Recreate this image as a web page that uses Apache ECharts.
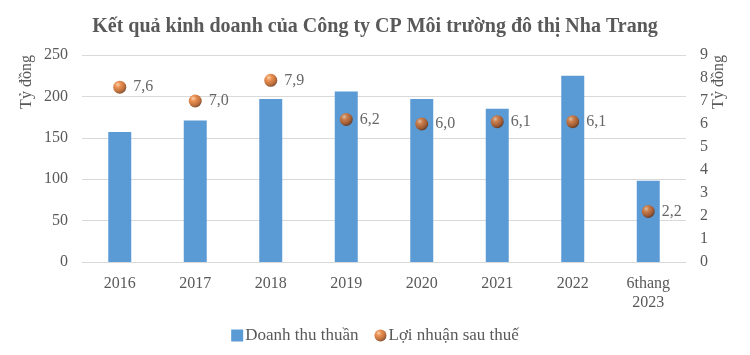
<!DOCTYPE html>
<html><head><meta charset="utf-8">
<script src="https://cdn.jsdelivr.net/npm/echarts@6/dist/echarts.min.js"></script>
<style>html,body{margin:0;padding:0;background:#fff}#c{width:750px;height:355px}</style>
</head><body><div id="c"></div>
<script>
const categories = ['2016','2017','2018','2019','2020','2021','2022','6thang\n2023'];
const revenue = [157, 171, 197, 206, 197, 185, 225, 98];
const profit = [7.6, 7.0, 7.9, 6.2, 6.0, 6.1, 6.1, 2.2];
const leftTicks = {min:0, max:250, interval:50};
const rightTicks = {min:0, max:9, interval:1};
const titleText = 'Kết quả kinh doanh của Công ty CP Môi trường đô thị Nha Trang';
const unitText = 'Tỷ đồng';
const seriesNames = ['Doanh thu thuần','Lợi nhuận sau thuế'];

const serif = '"Liberation Serif","Times New Roman",serif';
const grey = '#595959';
const chart = echarts.init(document.getElementById('c'));
const sphere = new echarts.graphic.RadialGradient(0.35, 0.3, 0.7, [
  {offset:0, color:'#F9C8A0'},
  {offset:0.3, color:'#E8782A'},
  {offset:0.75, color:'#B34E0E'},
  {offset:1, color:'#6E2C05'}
]);
chart.setOption({
  animation:false,
  title:{text:titleText, left:'center', top:12,
    textStyle:{fontFamily:serif, fontWeight:'bold', fontSize:20, color:grey}},
  grid:{left:82, right:64, top:55, bottom:93, containLabel:false},
  legend:{bottom:6, left:'center', itemGap:16, itemWidth:12, itemHeight:12,
    textStyle:{fontFamily:serif, fontSize:17, color:grey, padding:[0,0,0,-3]},
    data:[{name:seriesNames[0], icon:'rect', itemStyle:{color:'#5B9BD5'}},
          {name:seriesNames[1], icon:'circle', itemStyle:{color:sphere}}]},
  xAxis:{type:'category', data:categories,
    axisLine:{lineStyle:{color:'#d9d9d9'}}, axisTick:{show:false},
    axisLabel:{fontFamily:serif, fontSize:16, color:grey, margin:12, lineHeight:19}},
  yAxis:[
    {type:'value', min:leftTicks.min, max:leftTicks.max, interval:leftTicks.interval,
      axisLine:{show:false}, axisTick:{show:false},
      splitLine:{lineStyle:{color:'#d9d9d9'}},
      axisLabel:{fontFamily:serif, fontSize:16, color:grey, margin:14}},
    {type:'value', min:rightTicks.min, max:rightTicks.max, interval:rightTicks.interval,
      axisLine:{show:false}, axisTick:{show:false}, splitLine:{show:false},
      axisLabel:{fontFamily:serif, fontSize:16, color:grey, margin:14}}
  ],
  graphic:[
    {type:'text', x:27, y:82, rotation:Math.PI/2,
      style:{text:unitText, fontFamily:serif, fontSize:16, fill:grey, align:'center', verticalAlign:'middle'}},
    {type:'text', x:719, y:82, rotation:Math.PI/2,
      style:{text:unitText, fontFamily:serif, fontSize:16, fill:grey, align:'center', verticalAlign:'middle'}}
  ],
  series:[
    {name:seriesNames[0], type:'bar', data:revenue, barWidth:23, itemStyle:{color:'#5B9BD5'}},
    {name:seriesNames[1], type:'scatter', yAxisIndex:1, data:profit, symbolSize:13,
      itemStyle:{color:sphere},
      label:{show:true, position:'right', distance:7, fontFamily:serif, fontSize:16, color:'#404040',
        formatter:p=>p.value.toFixed(1).replace('.',',')}}
  ]
});
</script></body></html>
